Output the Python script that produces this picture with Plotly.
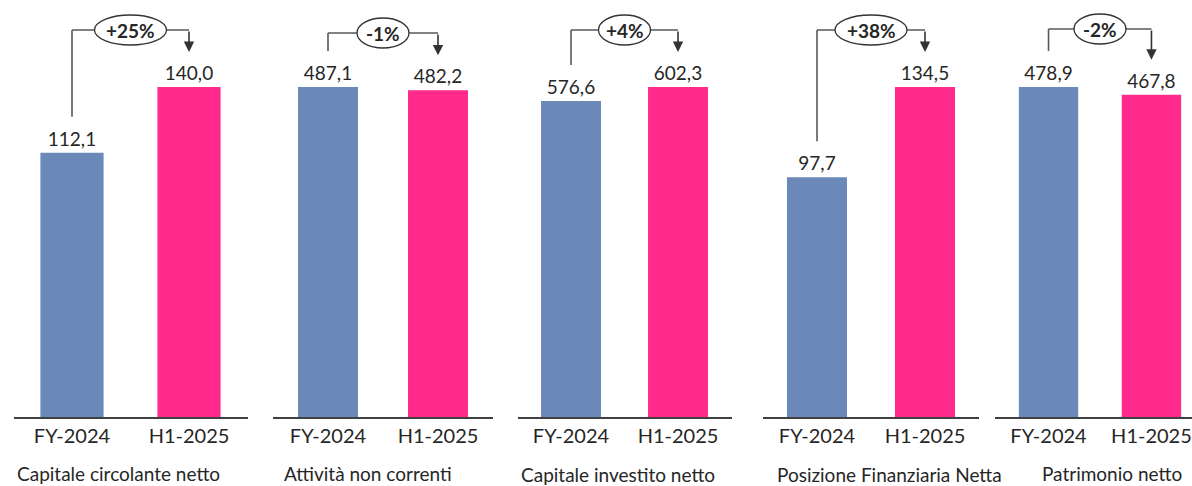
import plotly.graph_objects as go

# ---- data ----
panels = ["Capitale circolante netto", "Attività non correnti", "Capitale investito netto",
          "Posizione Finanziaria Netta", "Patrimonio netto"]
periods = ["FY-2024", "H1-2025"]
fy2024 = [112.1, 487.1, 576.6, 97.7, 478.9]
h12025 = [140.0, 482.2, 602.3, 134.5, 467.8]

# ---- style / layout ----
W, H = 1192, 486
BASE = 417          # baseline pixel (from top)
MAXH = 330          # pixel height of tallest bar in each panel
BRK = [30, 33, 30, 30, 29]   # bracket line pixel from top
dom_px = [(13.5, 247.5), (273, 493), (517.5, 731.5), (763, 979), (995, 1192)]
xr = [(-0.5, 1.5), (-0.5, 1.5), (-0.5, 1.5), (-0.5, 1.5), (-0.52, 1.394)]
barw = [0.54, 0.545, 0.56, 0.556, 0.577]
name_pos = [(118, 473), (368, 473), (618, 474), (890, 474), (1112, 473)]
BLUE, PINK = "#6A88B8", "#FF2A8C"
TXT = "#262626"
FONT = "Lato"

fig = go.Figure()
shapes, annots = [], []
for i in range(5):
    k = "" if i == 0 else str(i + 1)
    xa, ya = "x" + k, "y" + k
    vals = [fy2024[i], h12025[i]]
    vmax = max(vals)
    ppu = MAXH / vmax
    R = BASE / ppu
    fig.add_trace(go.Bar(
        x=periods, y=vals, xaxis=xa, yaxis=ya,
        marker=dict(color=[BLUE, PINK], line=dict(width=0)),
        width=barw[i],
        texttemplate="%{y:.1f}", textposition="outside",
        textfont=dict(family=FONT, size=19, color=TXT),
        cliponaxis=False, showlegend=False, hoverinfo="skip"))
    fig.layout["xaxis" + k] = dict(
        domain=[dom_px[i][0] / W, dom_px[i][1] / W], anchor=ya,
        range=list(xr[i]), type="category", showline=True, linecolor="#404040",
        linewidth=1.6, showgrid=False, zeroline=False, ticks="",
        tickfont=dict(family=FONT, size=20, color=TXT), fixedrange=True)
    fig.layout["yaxis" + k] = dict(
        domain=[(H - BASE) / H, 1], anchor=xa, range=[0, R], visible=False,
        fixedrange=True)

    ytop = (BASE - BRK[i]) / ppu
    # left vertical line
    shapes.append(dict(type="line", xref=xa, yref=ya, x0=0, x1=0,
                       y0=vals[0] + 36 / ppu, y1=ytop,
                       line=dict(color="#595959", width=1.6)))
    # horizontal line
    shapes.append(dict(type="line", xref=xa, yref=ya, x0=0, x1=1, y0=ytop, y1=ytop,
                       line=dict(color="#595959", width=1.6)))
    pct = round((vals[1] / vals[0] - 1) * 100)
    label = f"{pct:+d}%"
    ew = 20 * len(label) - 8
    shapes.append(dict(type="circle", xref=xa, yref=ya, xsizemode="pixel",
                       ysizemode="pixel", xanchor=0.5, yanchor=ytop,
                       x0=-ew / 2, x1=ew / 2, y0=-15, y1=15,
                       fillcolor="white", line=dict(color="#333333", width=1.3)))
    annots.append(dict(xref=xa, yref=ya, x=0.5, y=ytop, text=f"<b>{label}</b>",
                       showarrow=False, font=dict(family=FONT, size=19, color=TXT),
                       xanchor="center", yanchor="middle"))
    # arrow down to second bar
    annots.append(dict(xref=xa, yref=ya, x=1, y=vals[1] + 35 / ppu,
                       axref=xa, ayref=ya, ax=1, ay=ytop, text="",
                       showarrow=True, arrowhead=2, arrowsize=1.3, arrowwidth=1.6,
                       arrowcolor="#333333"))
    annots.append(dict(xref="paper", yref="paper", x=name_pos[i][0] / W,
                       y=(H - name_pos[i][1]) / H, text=panels[i], showarrow=False,
                       xanchor="center", yanchor="middle",
                       font=dict(family=FONT, size=19, color=TXT)))

fig.update_layout(width=W, height=H, margin=dict(l=0, r=0, t=0, b=0),
                  paper_bgcolor="white", plot_bgcolor="white",
                  separators=",.", shapes=shapes, annotations=annots,
                  bargap=0.45)
fig.write_html("out.html", config={"displayModeBar": False},
               post_script="document.body.style.margin='0';document.body.style.overflow='hidden';")
